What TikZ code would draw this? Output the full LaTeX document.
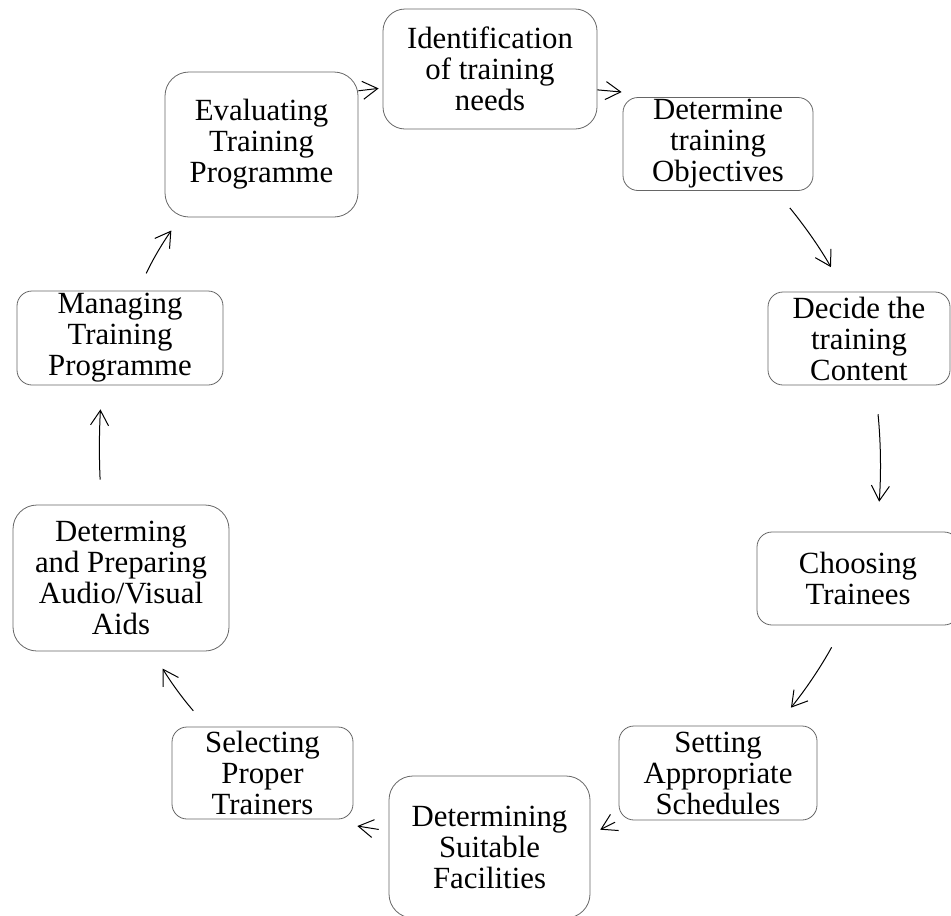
\documentclass[tikz,border=0pt]{standalone}
\usepackage{fontspec}
\setmainfont{Liberation Serif}
\usetikzlibrary{arrows.meta}

\tikzset{
    stage/.style={draw=black!60, line width=0.8pt, rounded corners=#1, align=center, inner sep=0pt, font=\fontsize{30.8}{31}\selectfont},
    stage/.default=15pt,
    flow/.style={line width=1pt, -{Straight Barb[length=15pt,width=18pt]}}
}

\begin{document}
\begin{tikzpicture}[x=1pt, y=-1pt]
        \useasboundingbox (0,0) rectangle (951,916);
        % the ten stages, clockwise from the top
        \node[stage=22pt, minimum width=214pt, minimum height=120pt] (ident) at (490,69) {Identification\\of training\\needs};
        \node[stage, minimum width=190pt, minimum height=93pt] (obj) at (718,144) {Determine\\training\\Objectives};
        \node[stage, minimum width=182pt, minimum height=93pt] (decide) at (859,338.5) {Decide the\\training\\Content};
        \node[stage, minimum width=202pt, minimum height=93pt] (choose) at (858,578.5) {Choosing\\Trainees};
        \node[stage, minimum width=198pt, minimum height=94pt] (sched) at (718,773) {Setting\\Appropriate\\Schedules};
        \node[stage=24pt, minimum width=201pt, minimum height=142pt] (facil) at (489.5,847) {Determining\\Suitable\\Facilities};
        \node[stage, minimum width=181pt, minimum height=92pt] (select) at (262.5,773) {Selecting\\Proper\\Trainers};
        \node[stage=24pt, minimum width=216pt, minimum height=146pt] (aids) at (121,578) {Determing\\and Preparing\\Audio/Visual\\Aids};
        \node[stage, minimum width=206pt, minimum height=94pt] (manage) at (120,338) {Managing\\Training\\Programme};
        \node[stage=24pt, minimum width=193pt, minimum height=145pt] (eval) at (261.5,144.5) {Evaluating\\Training\\Programme};

        % arrows between the stages
        \draw[flow, shorten >=4pt] (eval.29.5) -- (ident.190);
        \draw[flow, shorten >=1pt] (ident.-11) -- ([yshift=5pt]obj.north west);
        \draw[flow, shorten <=22pt, shorten >=28pt] (obj.-39.4) to[bend left=5] (decide.107);
        \draw[flow, shorten <=29pt, shorten >=30pt] (decide.-71) to[bend left=5] (choose.68.8);
        \draw[flow, shorten <=25pt, shorten >=23pt] (choose.-107.8) to[bend left=5] (sched.39.4);
        \draw[flow, shorten <=4pt, shorten >=11pt] (sched.south west) -- (facil.7);
        \draw[flow, shorten <=10pt, shorten >=4pt] (facil.171) -- ([yshift=-6pt]select.south east);
        \draw[flow, shorten <=21pt, shorten >=20pt] (select.140) to[bend left=5] (aids.-67.6);
        \draw[flow, shorten <=25pt, shorten >=24pt] (aids.105.3) to[bend left=3] (manage.-111);
        \draw[flow, shorten <=19pt, shorten >=16pt] (manage.69.9) to[bend left=5] (eval.222.6);
\end{tikzpicture}
\end{document}
